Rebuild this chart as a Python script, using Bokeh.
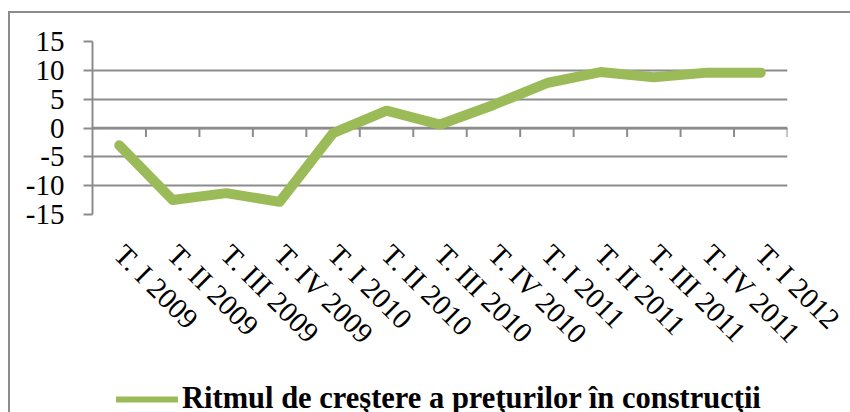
import math
from bokeh.plotting import figure
from bokeh.models import Range1d, FixedTicker, Legend, LegendItem, ColumnDataSource
from bokeh.embed import file_html
from bokeh.resources import INLINE

categories = ["T. I 2009", "T. II 2009", "T. III 2009", "T. IV 2009",
              "T. I 2010", "T. II 2010", "T. III 2010", "T. IV 2010",
              "T. I 2011", "T. II 2011", "T. III 2011", "T. IV 2011",
              "T. I 2012"]
values = [-3.0, -12.5, -11.3, -12.8, -0.9, 3.0, 0.6, 4.0, 7.8, 9.7, 8.8, 9.6, 9.6]
y_ticks = [-15, -10, -5, 0, 5, 10, 15]
y_labels = ["-15", "-10", "-5", "0", "5", "10", "15"]
series_name = "Ritmul de creştere a preţurilor în construcţii"

GRID = "#8c8c8c"
GREEN = "#9bbb59"
FONT = "Liberation Serif"

n = len(categories)
centers = [i + 0.5 for i in range(n)]
bounds = list(range(n + 1))

p = figure(frame_width=695, frame_height=173, output_backend="svg", toolbar_location=None,
           x_range=Range1d(0, n), y_range=Range1d(-15, 15),
           min_border_left=82, min_border_right=63, min_border_top=28, min_border_bottom=198)
p.styles = {"margin-left": "8px", "margin-top": "11px",
            "border-top": "2px solid #8c8c8c", "border-left": "2px solid #8c8c8c"}
p.outline_line_color = None
p.background_fill_color = "white"
p.border_fill_color = "white"

# grid
p.xgrid.grid_line_color = None
p.ygrid.ticker = FixedTicker(ticks=y_ticks)
p.ygrid.grid_line_color = GRID
p.ygrid.grid_line_width = 2

# y axis
p.yaxis.ticker = FixedTicker(ticks=y_ticks)
p.yaxis.major_label_overrides = {t: l for t, l in zip(y_ticks, y_labels)}
p.yaxis.axis_line_color = GRID
p.yaxis.axis_line_width = 2
p.yaxis.major_tick_line_color = GRID
p.yaxis.major_tick_line_width = 2
p.yaxis.major_tick_out = 9
p.yaxis.major_tick_in = 0
p.yaxis.minor_tick_line_color = None
p.yaxis.major_label_text_font = FONT
p.yaxis.major_label_text_font_size = "29px"
p.yaxis.major_label_text_color = "black"
p.yaxis.major_label_standoff = 19

# x axis (labels only, at bottom)
p.xaxis.ticker = FixedTicker(ticks=centers)
p.xaxis.major_label_overrides = {c: l for c, l in zip(centers, categories)}
p.xaxis.axis_line_color = None
p.xaxis.major_tick_line_color = None
p.xaxis.minor_tick_line_color = None
p.xaxis.major_label_orientation = -math.pi / 4
p.xaxis.major_label_text_font = FONT
p.xaxis.major_label_text_font_size = "29px"
p.xaxis.major_label_text_color = "black"
p.xaxis.major_label_standoff = 29

# category axis line at zero with tick marks at boundaries
p.segment(x0=[0], y0=[0], x1=[n], y1=[0], line_color=GRID, line_width=2.5)
p.ray(x=bounds[1:], y=[0] * n, length=9, angle=-math.pi / 2, length_units="screen",
      line_color=GRID, line_width=2)

src = ColumnDataSource(dict(x=centers, y=values))
p.line("x", "y", source=src, line_color=GREEN, line_width=10,
       line_cap="round", line_join="round")

# legend strip below the axis labels (its own small canvas, overlaid)
lg = figure(width=720, height=31, output_backend="svg", toolbar_location=None,
            x_range=Range1d(0, n), y_range=Range1d(100, 101),
            x_axis_location=None, y_axis_location=None, min_border=0)
lg.grid.visible = False
lg.outline_line_color = None
lg.background_fill_alpha = 0
lg.border_fill_alpha = 0
lg.styles = {"position": "absolute", "left": "116px", "top": "381px"}
# same series (out of this strip's view) provides the legend swatch
key = lg.line("x", "y", source=src, line_color=GREEN, line_width=6, line_cap="round")
legend = Legend(items=[LegendItem(label=series_name, renderers=[key])],
                location="top_left", orientation="horizontal",
                label_text_font=FONT, label_text_font_size="30.5px",
                label_text_font_style="bold", label_text_color="black",
                glyph_width=62, glyph_height=34, label_standoff=4,
                padding=0, margin=0, spacing=0,
                background_fill_alpha=0, border_line_color=None)
lg.add_layout(legend, "center")

open("out.html", "w").write(file_html([p, lg], INLINE))
